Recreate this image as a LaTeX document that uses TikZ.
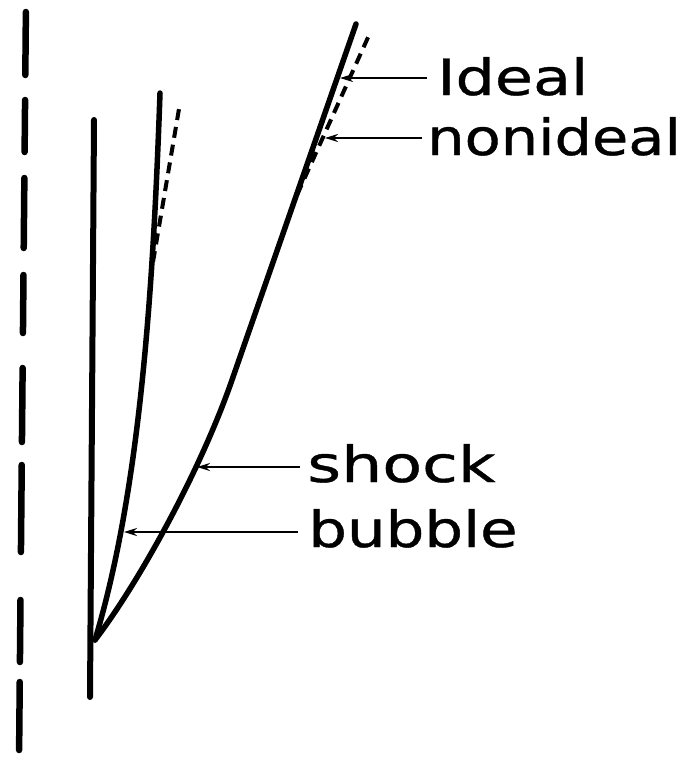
\documentclass[tikz,border=0pt]{standalone}
\usepackage{fontspec}
\setmainfont{DejaVu Sans}
\usetikzlibrary{arrows.meta}
\begin{document}
\begin{tikzpicture}[x=1pt,y=-1pt,
  axisdash/.style={line width=6.5pt,line cap=round},
  mainline/.style={line width=5.5pt,line cap=round,line join=round},
  nonidealline/.style={line width=4pt,dash pattern=on 11pt off 7pt},
  leader/.style={line width=2.3pt,-{Stealth[length=13pt,width=8pt]}},
  lbl/.style={font=\fontsize{50}{60}\selectfont\addfontfeature{FakeBold=0.7},inner sep=0pt,anchor=base west}]
\useasboundingbox (0,0) rectangle (691,763);
% symmetry axis (dashed)
\foreach \a/\b in {12/75,100/152,178/248,275/333,368/442,465/552,600/662,682/750}
  \draw[axisdash] ({26-7*\a/763},\a) -- ({26-7*\b/763},\b);
% wall / vertical line
\coordinate (vtop) at (94,120);
\coordinate (vbot) at (90,697);
\draw[mainline,line width=6pt] (vtop) -- (vbot);
% bubble (ideal)
\coordinate (vertex) at (95,640);
\coordinate (btop) at (160,93);
\draw[mainline] (vertex) .. controls (140,490) and (153,293) .. (btop);
% bubble (nonideal)
\coordinate (bn1) at (153,262);
\coordinate (bn2) at (180,103);
\draw[nonidealline] (bn1) -- (bn2);
% shock (ideal)
\coordinate (sbend) at (232,380);
\coordinate (stop) at (356,24);
\draw[mainline] (vertex) .. controls (140,581) and (200.7,470) .. (sbend) -- (stop);
% shock (nonideal)
\coordinate (sn1) at (297,195);
\coordinate (sn2) at (370,33);
\draw[nonidealline] (sn1) -- (sn2);
% labels
\node[lbl,xscale=1.24] (lideal) at (437,95) {Ideal};
\node[lbl,xscale=1.18] (lnonideal) at (427,155) {nonideal};
\node[lbl,xscale=1.3] (lshock) at (307,482) {shock};
\node[lbl,xscale=1.22] (lbubble) at (308,547) {bubble};
% leader lines
\coordinate (ia) at (427,78);  \coordinate (ib) at (340,78);
\coordinate (na) at (422,138); \coordinate (nb) at (325,138);
\coordinate (sa) at (300,467); \coordinate (sb) at (197,467);
\coordinate (ba) at (298,532); \coordinate (bb) at (124,532);
\draw[leader] (ia) -- (ib);
\draw[leader] (na) -- (nb);
\draw[leader] (sa) -- (sb);
\draw[leader] (ba) -- (bb);
\end{tikzpicture}
\end{document}
